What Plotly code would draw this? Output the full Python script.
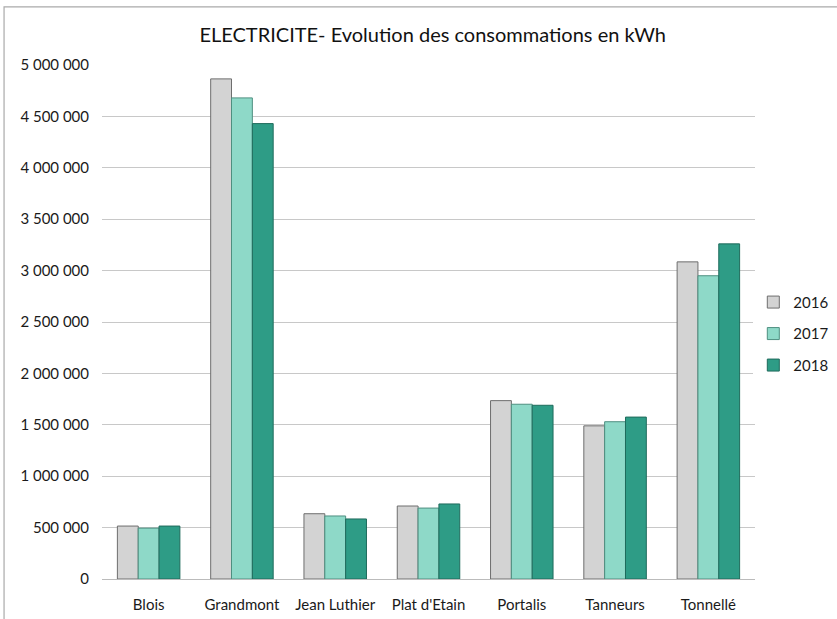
import plotly.graph_objects as go

categories = ["Blois", "Grandmont", "Jean Luthier", "Plat d'Etain", "Portalis", "Tanneurs", "Tonnellé"]
years = ["2016", "2017", "2018"]
v2016 = [515000, 4865000, 635000, 710000, 1735000, 1490000, 3085000]
v2017 = [495000, 4680000, 613000, 690000, 1700000, 1530000, 2950000]
v2018 = [515000, 4430000, 584000, 730000, 1690000, 1575000, 3260000]
tick_vals = [0, 500000, 1000000, 1500000, 2000000, 2500000, 3000000, 3500000, 4000000, 4500000, 5000000]
tick_text = ["0", "500 000", "1 000 000", "1 500 000", "2 000 000", "2 500 000",
             "3 000 000", "3 500 000", "4 000 000", "4 500 000", "5 000 000"]

colors = ["#D3D3D3", "#8ED9C8", "#2E9C86"]
outlines = ["#6E6E6E", "#4E8F80", "#1F6B5C"]

fig = go.Figure()
for name, vals, c, o in zip(years, [v2016, v2017, v2018], colors, outlines):
    fig.add_trace(go.Bar(x=categories, y=vals, name=name, legendgroup=name,
                         marker=dict(color=c, line=dict(color=o, width=1))))

fig.update_layout(
    width=837, height=619,
    paper_bgcolor="white", plot_bgcolor="white",
    font=dict(family="Lato, Open Sans, sans-serif", size=15, color="#1a1a1a"),
    title=dict(text="ELECTRICITE- Evolution des consommations en kWh",
               x=0.517, xanchor="center", y=0.943, yanchor="middle",
               font=dict(size=20, color="#111")),
    margin=dict(l=102, r=82, t=65, b=40, autoexpand=False),
    barmode="group", bargap=0.33, bargroupgap=0.0,
    legend=dict(x=0.9, xanchor="left", xref="container", y=0.477, yanchor="middle",
                font=dict(size=15), itemwidth=30, tracegroupgap=9),
    xaxis=dict(showline=True, linecolor="#BBBBBB", ticks="", tickfont=dict(size=15),
               ticklabelstandoff=12),
    yaxis=dict(range=[0, 5000000], tickvals=tick_vals, ticktext=tick_text,
               showgrid=True, gridcolor="#C8C8C8", zeroline=False,
               tickfont=dict(size=15), ticks="", ticklabelstandoff=12),
    shapes=[dict(type="rect", xref="paper", yref="paper", x0=-0.150, x1=1.3, y0=-0.2, y1=1.113,
                 line=dict(color="#AAAAAA", width=1.2))],
)
fig.write_html("out.html", config={"displayModeBar": False},
               post_script="document.body.style.margin='0';")
